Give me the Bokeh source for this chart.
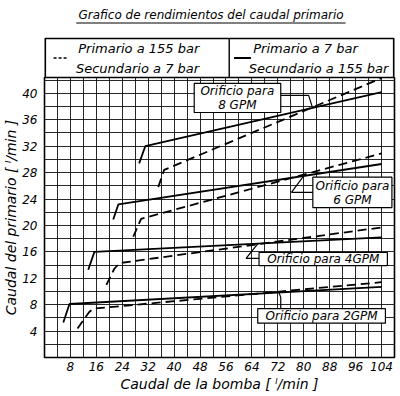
from bokeh.plotting import figure
from bokeh.layouts import column
from bokeh.models import FixedTicker
from bokeh.core.properties import value
from bokeh.embed import file_html
from bokeh.resources import INLINE

FONT = "DejaVu Sans"

# ---- data ----
x_ticks = [8, 16, 24, 32, 40, 48, 56, 64, 72, 80, 88, 96, 104]
y_ticks = [4, 8, 12, 16, 20, 24, 28, 32, 36, 40]

# solid = Primario a 7 bar / Secundario a 155 bar
s8_x = [29.2, 31.1, 104]
s8_y = [29.4, 32.0, 40.2]
s6_x = [21.2, 22.8, 104]
s6_y = [20.9, 23.2, 29.3]
s4_x = [13.5, 15.4, 104]
s4_y = [13.3, 16.0, 18.2]
s2_x = [5.8, 7.7, 104]
s2_y = [5.3, 8.1, 10.7]
# dashed = Primario a 155 bar / Secundario a 7 bar
d8_x = [35.1, 36.9, 104]
d8_y = [25.8, 28.4, 42.3]
d6_x = [27.4, 29.8, 104]
d6_y = [18.3, 21.0, 30.9]
d4_x = [19.1, 21.5, 23.1, 104]
d4_y = [11.0, 13.4, 14.3, 19.7]
d2_x = [10.2, 13.8, 15.1, 104]
d2_y = [4.4, 6.9, 7.4, 11.4]

title_text = "Grafico de rendimientos del caudal primario"
legend_dash = ["Primario a 155 bar", "Secundario a 7 bar"]
legend_solid = ["Primario a  7 bar", "Secundario a 155 bar"]
x_title = "Caudal de la bomba [ \u02e1/min ]"
y_title = "Caudal del primario [ \u02e1/min ]"

box_texts = [["Orificio para", "8 GPM"], ["Orificio para", "6 GPM"],
             ["Orificio para 4GPM"], ["Orificio para 2GPM"]]

XMAX, YMAX = 108, 42.4
W = 400
LEFT, RIGHT = 43, 6
TOP_H = 77
MAIN_H = 319

# ---------------- top panel: title + legend box ----------------
t = figure(width=W, height=TOP_H, x_range=(0, XMAX), y_range=(0, TOP_H),
           output_backend="svg", toolbar_location=None,
           x_axis_type=None, y_axis_type=None,
           min_border_left=LEFT, min_border_right=RIGHT, min_border_top=0,
           min_border_bottom=0)
t.outline_line_color = None
t.xgrid.visible = False
t.ygrid.visible = False
t.background_fill_color = "white"
t.border_fill_color = "white"

# legend box edges (edges lying on the frame border are drawn double width,
# since half of them is clipped)
t.line([0, 0], [0, 39], line_color="black", line_width=3.2)
t.line([XMAX, XMAX], [0, 39], line_color="black", line_width=3.2)
t.line([0, XMAX], [39, 39], line_color="black", line_width=1.6)
t.line([0, XMAX], [0, 0], line_color="black", line_width=1.6)
t.line([57, 57], [0, 39], line_color="black", line_width=1.4)
t.line([2.8, 6.8], [19.5, 19.5], line_color="black", line_width=1.6, line_dash="3 2")
t.line([58.5, 63.7], [19.5, 19.5], line_color="black", line_width=1.8)
t.text([10.4, 9.7], [29.5, 9.5], text=legend_dash, text_font=value(FONT),
       text_font_style="italic", text_font_size="13px", text_baseline="middle",
       text_color="black")
t.text([64.4, 63.0], [29.5, 9.5], text=legend_solid, text_font=value(FONT),
       text_font_style="italic", text_font_size="13px", text_baseline="middle",
       text_color="black")
t.text([51.4], [62.5], text=[title_text], text_font=value(FONT),
       text_font_style="italic", text_font_size="12px", text_align="center",
       text_baseline="middle", text_color="black")
t.line([9.8, 92.9], [54.5, 54.5], line_color="black", line_width=1)

# ---------------- main chart ----------------
p = figure(width=W, height=MAIN_H, x_range=(0, XMAX), y_range=(0, YMAX),
           output_backend="svg", toolbar_location=None,
           min_border_left=LEFT, min_border_right=RIGHT, min_border_top=0,
           min_border_bottom=39)
p.background_fill_color = "white"
p.border_fill_color = "white"
p.outline_line_color = "black"
p.outline_line_width = 1.6

p.xgrid.ticker = FixedTicker(ticks=list(range(0, XMAX + 1, 4)))
p.ygrid.ticker = FixedTicker(ticks=list(range(0, 43, 2)))
for g in (p.xgrid, p.ygrid):
    g.grid_line_color = "#111111"
    g.grid_line_width = 1
    g.grid_line_alpha = 0.9

p.xaxis.ticker = FixedTicker(ticks=x_ticks)
p.yaxis.ticker = FixedTicker(ticks=y_ticks)
for ax in (p.xaxis, p.yaxis):
    ax.axis_line_color = None
    ax.major_tick_line_color = None
    ax.minor_tick_line_color = None
    ax.major_tick_in = 0
    ax.major_tick_out = 0
    ax.minor_tick_in = 0
    ax.minor_tick_out = 0
    ax.major_label_text_font = FONT
    ax.major_label_text_font_style = "italic"
    ax.major_label_text_font_size = "12px"
    ax.major_label_text_color = "black"
    ax.axis_label_text_font = FONT
    ax.axis_label_text_font_style = "italic"
    ax.axis_label_text_font_size = "14px"
    ax.axis_label_text_color = "black"
p.xaxis.axis_label = x_title
p.yaxis.axis_label = y_title
p.xaxis.major_label_standoff = 4
p.yaxis.major_label_standoff = 7
p.xaxis.axis_label_standoff = 2
p.yaxis.axis_label_standoff = 0

LW = 1.8
DASH = "9 5"
for xs, ys in [(s8_x, s8_y), (s6_x, s6_y), (s4_x, s4_y), (s2_x, s2_y)]:
    p.line(xs, ys, line_color="black", line_width=LW)
for xs, ys in [(d8_x, d8_y), (d6_x, d6_y), (d4_x, d4_y), (d2_x, d2_y)]:
    p.line(xs, ys, line_color="black", line_width=LW, line_dash=DASH)

boxes = [(46.2, 72.9, 37.1, 41.5), (82.8, 107.2, 22.7, 27.3),
         (66.2, 105.8, 13.9, 15.9), (65.8, 105.2, 5.2, 7.4)]
p.quad(left=[b[0] for b in boxes], right=[b[1] for b in boxes],
       bottom=[b[2] for b in boxes], top=[b[3] for b in boxes],
       fill_color="white", line_color="black", line_width=1.2)
p.line([72.9, 81.5, 82.6], [39.7, 39.7, 38.0], line_color="black", line_width=1.2)
p.line([82.8, 76.2, 80.0], [25.0, 25.0, 27.5], line_color="black", line_width=1.2)
p.line([66.2, 62.2, 65.8], [15.0, 15.0, 17.2], line_color="black", line_width=1.2)
p.line([72.9, 72.9, 72.3], [7.4, 9.1, 9.9], line_color="black", line_width=1.2)

tx = [59.5, 59.5, 95.0, 95.0, 86.0, 85.5]
ty = [40.3, 38.2, 25.9, 23.8, 14.9, 6.3]
tt = [box_texts[0][0], box_texts[0][1], box_texts[1][0], box_texts[1][1],
      box_texts[2][0], box_texts[3][0]]
p.text(tx, ty, text=tt, text_font=value(FONT), text_font_style="italic",
       text_font_size="12px", text_align="center", text_baseline="middle",
       text_color="black")

layout = column(t, p)
open("out.html", "w").write(file_html(layout, INLINE))
